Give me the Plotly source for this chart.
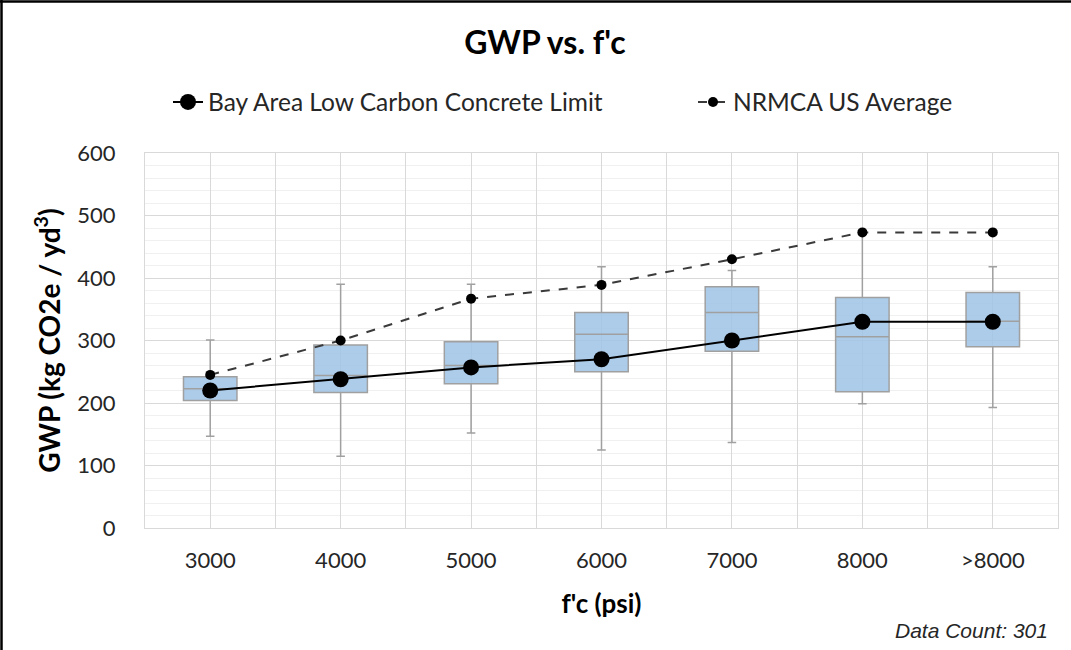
import plotly.graph_objects as go

categories = ["3000", "4000", "5000", "6000", "7000", "8000", ">8000"]
q1 = [204, 217, 231, 250, 283, 218, 290]
median = [223, 244, 260, 310, 345, 306, 331]
q3 = [242, 293, 298, 345, 386, 369, 377]
lower = [147, 115, 152, 125, 137, 199, 193]
upper = [301, 390, 390, 418, 412, 470, 418]
bay_area = [220, 238, 257, 270, 300, 330, 330]
nrmca = [245, 300, 367, 389, 430, 473, 473]

W, H = 1071, 650
L, R, T, B = 145, 13, 153, 122
pw, ph = W - L - R, H - T - B

def px(x):
    return (x - L) / pw

def py(y):
    return (H - B - y) / ph

FONT = "Lato"
LEG_FONT = dict(family=FONT, size=24.5, color="#262626")

fig = go.Figure()
fig.add_trace(go.Box(
    x=categories, q1=q1, median=median, q3=q3,
    lowerfence=lower, upperfence=upper,
    fillcolor="rgba(157,195,230,0.85)",
    line=dict(color="#A0A0A0", width=1.5),
    width=0.41, whiskerwidth=0.16, boxpoints=False,
    showlegend=False, hoverinfo="skip",
))
fig.add_trace(go.Scatter(
    x=categories, y=bay_area, mode="lines+markers",
    name="Bay Area Low Carbon Concrete Limit", legend="legend",
    line=dict(color="black", width=2),
    marker=dict(color="black", size=16),
))
fig.add_trace(go.Scatter(
    x=categories, y=nrmca, mode="lines+markers",
    name="NRMCA US Average", legend="legend2",
    line=dict(color="#3A3A3A", width=2, dash="dash"),
    marker=dict(color="black", size=10),
))
# helper trace for boundary gridlines
fig.add_trace(go.Scatter(
    x=categories, y=[None] * len(categories), xaxis="x2",
    showlegend=False, hoverinfo="skip", mode="lines",
))

fig.update_layout(
    width=W, height=H,
    margin=dict(l=L, r=R, t=T, b=B),
    paper_bgcolor="white", plot_bgcolor="white",
    font=dict(family=FONT, color="#262626", size=22),
    title=dict(text="<b>GWP vs. f'c</b>", x=545 / W, xref="container",
               xanchor="center", y=1 - 43 / H, yref="container", yanchor="middle",
               font=dict(family=FONT, size=32, color="black")),
    legend=dict(orientation="h", x=px(168), xanchor="left", y=py(102), yanchor="middle",
                font=LEG_FONT, bgcolor="rgba(0,0,0,0)", itemclick=False),
    legend2=dict(orientation="h", x=px(693), xanchor="left", y=py(102), yanchor="middle",
                 font=LEG_FONT, bgcolor="rgba(0,0,0,0)", itemclick=False),
    xaxis=dict(
        type="category", categoryarray=categories, range=[-0.5, 6.5],
        showgrid=True, gridcolor="#D9D9D9", gridwidth=1,
        showline=True, linecolor="#D9D9D9", mirror=True,
        ticks="", ticklabelstandoff=13,
        tickfont=dict(family=FONT, size=22, color="#262626"),
        title=dict(text="<b>f'c (psi)</b>", standoff=22,
                   font=dict(family=FONT, size=26, color="black")),
        zeroline=False,
    ),
    xaxis2=dict(
        type="category", categoryarray=categories, range=[-0.5, 6.5],
        overlaying="x", tickson="boundaries", showgrid=True,
        gridcolor="#D9D9D9", showticklabels=False, ticks="",
        side="bottom", anchor="y", showline=False,
    ),
    yaxis=dict(
        range=[0, 600], dtick=100, showgrid=True, gridcolor="#D9D9D9",
        showline=True, linecolor="#D9D9D9", mirror=True,
        minor=dict(dtick=20, showgrid=True, gridcolor="#F0F0F0"),
        ticks="", ticklabelstandoff=24, zeroline=False,
        tickfont=dict(family=FONT, size=22, color="#262626"),
        title=dict(text="<b>GWP (kg CO2e / yd<sup>3</sup>)</b>", standoff=8,
                   font=dict(family=FONT, size=28, color="black")),
    ),
    annotations=[dict(
        text="<i>Data Count: 301</i>", xref="paper", yref="paper",
        x=px(1050), y=py(630), xanchor="right", yanchor="middle",
        showarrow=False, font=dict(family="Liberation Sans", size=21, color="#262626"),
    )],
    shapes=[
        dict(type="line", xref="paper", yref="paper", x0=px(0), x1=px(W),
             y0=py(1.5), y1=py(1.5), line=dict(color="black", width=2.5)),
        dict(type="line", xref="paper", yref="paper", x0=px(1.5), x1=px(1.5),
             y0=py(0), y1=py(H), line=dict(color="black", width=2.5)),
    ],
)

fig.write_html("out.html")
